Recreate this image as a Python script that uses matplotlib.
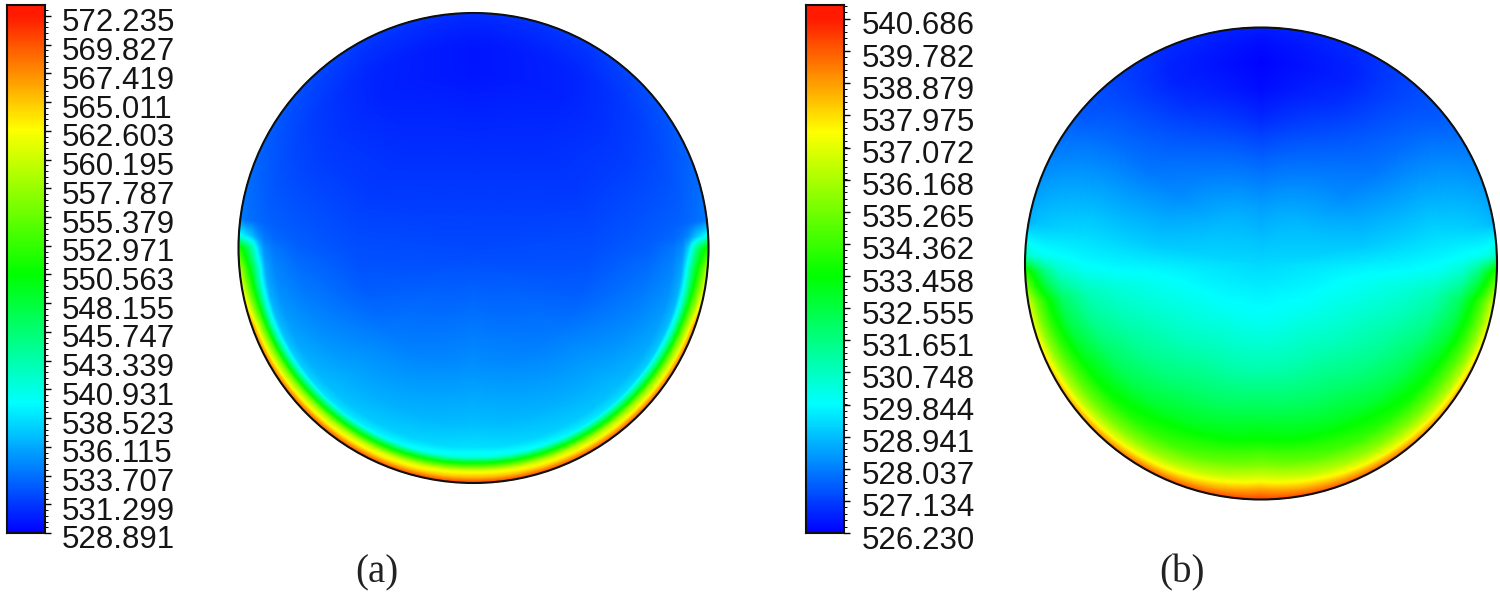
#!/usr/bin/env python3
"""
Two temperature contour discs, (a) and (b), each with its own rainbow colour bar.
Fields are tables read off the picture: angle from the bottom of the disc
against depth from the wall (in pixels), mirrored left/right.
"""

import numpy as np
import matplotlib
matplotlib.use('Agg')
import matplotlib.pyplot as plt
from matplotlib.colors import LinearSegmentedColormap, Normalize
from matplotlib.patches import Circle
from matplotlib.ticker import AutoMinorLocator
from matplotlib.transforms import ScaledTranslation

plt.rcParams['font.family'] = ['Liberation Sans', 'DejaVu Sans']

W, H = 1500, 593

labels_a = [572.235, 569.827, 567.419, 565.011, 562.603, 560.195, 557.787, 555.379, 552.971,
            550.563, 548.155, 545.747, 543.339, 540.931, 538.523, 536.115, 533.707, 531.299, 528.891]
labels_b = [540.686, 539.782, 538.879, 537.975, 537.072, 536.168, 535.265, 534.362, 533.458,
            532.555, 531.651, 530.748, 529.844, 528.941, 528.037, 527.134, 526.230]

angles_a = [0, 45, 70, 85, 90, 93, 97, 120, 150, 180]
depths_a = [0, 3, 6, 12, 20, 26, 36, 60, 120, 235]
temps_a = [
    [571.0, 568.5, 565.5, 562.0, 551.0, 541.0, 538.5, 537.0, 535.0, 532.0],
    [570.0, 567.0, 563.5, 558.0, 546.0, 538.5, 537.0, 536.0, 534.0, 532.0],
    [568.0, 565.0, 561.0, 554.0, 542.0, 537.0, 535.5, 534.5, 532.8, 532.0],
    [559.0, 557.0, 554.0, 549.0, 541.0, 536.0, 534.5, 533.5, 532.3, 532.0],
    [552.0, 551.0, 549.0, 545.0, 538.0, 535.0, 534.0, 533.0, 532.2, 532.0],
    [541.0, 540.0, 539.0, 537.5, 535.0, 534.0, 533.3, 532.8, 532.1, 532.0],
    [534.0, 534.0, 533.8, 533.6, 533.3, 533.1, 532.9, 532.6, 532.0, 532.0],
    [532.8, 532.8, 532.6, 532.4, 532.2, 532.0, 531.8, 531.5, 531.3, 532.0],
    [531.6, 531.4, 531.2, 531.0, 530.8, 530.6, 530.4, 530.3, 530.8, 532.0],
    [531.0, 530.8, 530.6, 530.4, 530.2, 530.0, 529.8, 529.8, 530.6, 532.0],
]

angles_b = [0, 30, 60, 80, 88, 92, 100, 130, 155, 180]
depths_b = [0, 4, 10, 20, 35, 60, 90, 130, 180, 236]
temps_b = [
    [540.2, 539.6, 538.8, 537.2, 535.5, 533.5, 532.3, 531.0, 530.0, 529.3],
    [539.8, 538.8, 537.4, 535.8, 534.3, 533.0, 532.0, 531.0, 530.0, 529.3],
    [538.8, 537.6, 536.2, 534.8, 533.3, 532.0, 531.2, 530.5, 529.8, 529.3],
    [537.0, 536.2, 535.0, 533.6, 532.0, 530.9, 530.4, 530.0, 529.6, 529.3],
    [534.2, 533.7, 532.8, 531.5, 530.5, 530.0, 529.8, 529.7, 529.5, 529.3],
    [531.0, 530.5, 530.2, 530.0, 529.9, 529.7, 529.6, 529.5, 529.4, 529.3],
    [528.8, 528.9, 529.0, 529.1, 529.2, 529.3, 529.2, 529.1, 529.2, 529.3],
    [527.5, 527.5, 527.5, 527.6, 527.7, 527.8, 527.9, 528.2, 528.9, 529.3],
    [526.9, 526.8, 526.8, 526.7, 526.7, 526.9, 527.3, 527.9, 528.7, 529.3],
    [526.7, 526.6, 526.5, 526.4, 526.3, 526.4, 526.8, 527.6, 528.5, 529.3],
]

rainbow = LinearSegmentedColormap.from_list(
    'fluent', [(0, '#0000ff'), (0.25, '#00ffff'), (0.5, '#00ff00'), (0.78, '#ffff00'), (1, '#ff1a00')], N=512)


def px_axes(fig, left, top, right, bottom):
    return fig.add_axes([left / W, 1 - bottom / H, (right - left) / W, (bottom - top) / H])


def draw_disc(fig, cx, cy, radius, angles, depths, temps, norm):
    ax = px_axes(fig, cx - radius - 4, cy - radius - 4, cx + radius + 4, cy + radius + 4)
    temps = np.array(temps)
    # fill the read table out to a fine polar mesh so the disc edge stays round
    fine_a = np.linspace(0, 180, 361)
    fine_d = np.linspace(0, radius, 240)
    by_angle = np.array([np.interp(fine_a, angles, temps[:, j]) for j in range(len(depths))])
    field = np.array([np.interp(fine_d, depths, by_angle[:, i]) for i in range(len(fine_a))])
    # mirror to the other half
    th = np.radians(np.concatenate([-fine_a[::-1], fine_a[1:]]))
    field = np.vstack([field[::-1], field[1:]])
    dd, tt = np.meshgrid(fine_d, th)
    xx = (radius - dd) * np.sin(tt)
    yy = -(radius - dd) * np.cos(tt)
    ax.pcolormesh(xx, yy, field, cmap=rainbow, norm=norm, shading='gouraud')
    ax.add_patch(Circle((0, 0), radius, fill=False, edgecolor='#101010', linewidth=1.5))
    ax.set_xlim(-radius - 4, radius + 4)
    ax.set_ylim(-radius - 4, radius + 4)
    ax.set_aspect('equal')
    ax.axis('off')


def draw_bar(fig, left, right, top, bottom, first_tick_y, labels, norm, text_x):
    cax = px_axes(fig, left, top, right, bottom)
    lo, hi = labels[-1], labels[0]
    per_px = (hi - lo) / (bottom - first_tick_y)
    bar_top = hi + (first_tick_y - top) * per_px
    vals = np.linspace(lo, bar_top, 512)
    cax.pcolormesh([0, 1], vals, np.clip(vals[:-1], lo, hi)[:, None], cmap=rainbow, norm=norm)
    cax.set_ylim(lo, bar_top)
    cax.set_xticks([])
    cax.yaxis.tick_right()
    cax.set_yticks(labels)
    cax.set_yticklabels(['{:.3f}'.format(v) for v in labels], fontsize=22.5, color='#151515')
    cax.yaxis.set_minor_locator(AutoMinorLocator(5))
    cax.tick_params(axis='y', which='major', length=4.5, width=1, pad=(text_x - right - 5) * 0.72)
    cax.tick_params(axis='y', which='minor', length=2, width=0.7)
    shift = ScaledTranslation(0, -4 / 100, fig.dpi_scale_trans)
    for lab in cax.get_yticklabels():
        lab.set_transform(lab.get_transform() + shift)
    for sp in cax.spines.values():
        sp.set_linewidth(1.5)
        sp.set_color('#101010')


fig = plt.figure(figsize=(W / 100, H / 100), dpi=100)

norm_a = Normalize(labels_a[-1], labels_a[0])
norm_b = Normalize(labels_b[-1], labels_b[0])

draw_bar(fig, 7, 45, 5, 533, 16, labels_a, norm_a, 60)
draw_bar(fig, 806, 844, 5, 533, 19, labels_b, norm_b, 860)

draw_disc(fig, 473.5, 248, 235, angles_a, depths_a, temps_a, norm_a)
draw_disc(fig, 1261, 263.5, 236, angles_b, depths_b, temps_b, norm_b)

fig.text(377 / W, 1 - 573 / H, '(a)', family='Liberation Serif', fontsize=28, ha='center', va='center', color='#222222')
fig.text(1182 / W, 1 - 573 / H, '(b)', family='Liberation Serif', fontsize=28, ha='center', va='center', color='#222222')

fig.savefig('out.png', dpi=100)
